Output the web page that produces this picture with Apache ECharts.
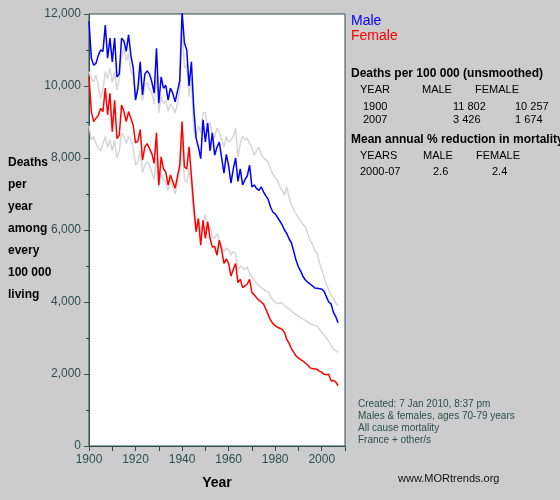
<!DOCTYPE html>
<html>
<head>
<meta charset="UTF-8">
<script src="https://cdn.jsdelivr.net/npm/echarts@6/dist/echarts.min.js"></script>
<style>
  *{margin:0;}
  html,body{height:100%;background:#cccccc;}
  #chart{width:560px;height:500px;}
</style>
</head>
<body>
<div id="chart"></div>
<script>
  // yearly values 1900-2007
  let startYear = 1900;
  let male = [
    11800,10770,10580,10630,10850,11000,10960,11690,10770,11330,
    10670,11330,10250,10330,11330,11250,10960,11420,10850,10500,
    9610,9940,10670,9750,10330,10420,10330,10110,9800,11050,
    9520,10250,9940,10020,9610,9940,9800,9560,9850,10150,
    12050,11200,11000,10000,10670,9400,8560,8300,7980,9060,
    8450,8970,8200,8700,8080,8300,8440,8000,7580,8100,
    7780,7300,7700,8000,7350,7700,7250,7400,7500,7800,
    7200,7250,7150,7100,7200,7060,6950,6850,6640,6500,
    6450,6350,6250,6140,6000,5900,5750,5640,5400,5150,
    4970,4850,4700,4610,4550,4500,4450,4390,4380,4370,
    4360,4300,4150,4000,3950,3720,3600,3426
  ];
  let female = [
    10257,9290,9010,9100,9190,9380,9290,9940,9200,9800,
    8730,9600,8540,8630,9470,9290,9010,9290,9100,8910,
    8420,8470,8790,7940,8310,8400,8260,8120,7850,8700,
    7250,8030,7700,7610,7250,7530,7350,7160,7480,7800,
    9010,7750,7700,8310,7500,6690,5950,6320,5580,6270,
    5770,6230,5770,5530,5540,5300,5720,5450,5070,5200,
    5070,4720,4900,5070,4540,4630,4400,4450,4500,4630,
    4260,4200,4120,4050,4000,3940,3800,3650,3500,3400,
    3340,3300,3270,3240,3150,2960,2850,2700,2600,2500,
    2450,2400,2360,2300,2250,2170,2150,2140,2130,2080,
    2050,1990,1980,1990,1810,1820,1780,1674
  ];
  let otherMale = [
    10400,10200,10120,10300,10000,9650,9900,10400,10200,10500,
    10100,10400,9900,10200,10800,11060,10700,10900,10400,10300,
    9700,9900,10300,9600,10000,10100,9900,9800,9500,10300,
    9260,9700,9500,9600,9300,9500,9400,9260,9500,9900,
    11690,10500,10600,9700,10200,8800,8560,8900,8700,9260,
    9260,8800,9000,8600,8580,8830,8700,8530,8300,8600,
    8440,8500,8600,8830,8030,8400,8600,8500,8550,8400,
    8300,8080,8200,8300,8100,8000,7950,7890,7700,7550,
    7450,7390,7200,7100,6970,7200,6900,6700,6550,6450,
    6350,6250,6150,6080,5900,5720,5600,5450,5360,5100,
    4900,4690,4500,4330,4200,4100,3970,3900
  ];
  let otherFemale = [
    8900,8500,8600,8400,8300,8200,8400,8600,8300,8500,
    8200,8500,8000,8200,8700,8600,8400,8600,8500,8300,
    7800,7900,8200,7600,7800,7900,7800,7600,7400,8000,
    7200,7600,7400,7300,7100,7400,7200,7000,7300,7600,
    8500,7400,7300,7700,7200,6430,6000,6300,5950,6200,
    6420,6000,6100,5800,5770,5900,5700,5540,5400,5500,
    5450,5300,5400,5350,4880,5000,4950,4900,4970,4800,
    4700,4600,4520,4450,4400,4350,4300,4290,4150,4050,
    4000,3950,3980,3970,3900,3850,3800,3750,3700,3650,
    3600,3560,3520,3480,3450,3400,3380,3350,3330,3250,
    3150,3080,3010,2900,2800,2690,2650,2600
  ];

  function pairs(arr){ return arr.map((v,i)=>[startYear+i, v]); }

  let txt = (x,y,t,extra)=>({type:'text',left:x,top:y,style:Object.assign({text:t,fill:'#000',font:'12px Arial'},extra||{})});

  let chart = echarts.init(document.getElementById('chart'));
  chart.setOption({
      backgroundColor:'#cccccc',
      animation:false,
      grid:{left:89,right:215,top:14,bottom:54,show:true,backgroundColor:'#fff',borderColor:'#2f4f4f',borderWidth:1},
      xAxis:{
          type:'value',min:1900,max:2010,interval:10,
          axisLine:{lineStyle:{color:'#2f4f4f'}},
          axisTick:{lineStyle:{color:'#2f4f4f'},length:5},
          axisLabel:{color:'#2f4f4f',fontFamily:'Arial',fontSize:12,
              formatter:v=>(v%20===0 && v<2010)?String(v):''},
          splitLine:{show:false},
          name:'Year',nameLocation:'middle',nameGap:30,
          nameTextStyle:{fontWeight:'bold',fontSize:14,fontFamily:'Arial',color:'#000'}
      },
      yAxis:{
          type:'value',min:0,max:12000,interval:2000,
          axisLine:{show:true,lineStyle:{color:'#2f4f4f'}},
          axisTick:{show:true,lineStyle:{color:'#2f4f4f'},length:5},
          minorTick:{show:true,splitNumber:2,length:3,lineStyle:{color:'#2f4f4f'}},
          axisLabel:{color:'#2f4f4f',fontFamily:'Arial',fontSize:12},
          splitLine:{show:false}
      },
      series:[
          {type:'line',data:pairs(otherMale),symbol:'none',lineStyle:{color:'#d6d6d6',width:1.5},z:1},
          {type:'line',data:pairs(otherFemale),symbol:'none',lineStyle:{color:'#d6d6d6',width:1.5},z:1},
          {type:'line',data:pairs(male),symbol:'none',lineStyle:{color:'#0000ff',width:1.5},z:3},
          {type:'line',data:pairs(female),symbol:'none',lineStyle:{color:'#ff0000',width:1.5},z:3}
      ],
      graphic:[
          txt(8,157,'Deaths\n\nper\n\nyear\n\namong\n\nevery\n\n100 000\n\nliving',{font:'bold 12px Arial',lineHeight:11}),
          txt(351,14,'Male',{fill:'#0000ff',font:'14px Arial'}),
          txt(351,29,'Female',{fill:'#ff0000',font:'14px Arial'}),
          txt(351,68,'Deaths per 100 000 (unsmoothed)',{font:'bold 12px Arial'}),
          txt(360,84,'YEAR',{font:'11px Arial'}),
          txt(422,84,'MALE',{font:'11px Arial'}),
          txt(475,84,'FEMALE',{font:'11px Arial'}),
          txt(363,100,'1900\n2007',{font:'11px Arial',lineHeight:13}),
          txt(453,100,'11 802\n3 426',{font:'11px Arial',lineHeight:13,align:'right'}),
          txt(515,100,'10 257\n1 674',{font:'11px Arial',lineHeight:13,align:'right'}),
          txt(351,134,'Mean annual % reduction in mortality',{font:'bold 12px Arial'}),
          txt(360,150,'YEARS',{font:'11px Arial'}),
          txt(423,150,'MALE',{font:'11px Arial'}),
          txt(476,150,'FEMALE',{font:'11px Arial'}),
          txt(360,166,'2000-07',{font:'11px Arial'}),
          txt(433,166,'2.6',{font:'11px Arial'}),
          txt(492,166,'2.4',{font:'11px Arial'}),
          txt(358,398,'Created: 7 Jan 2010, 8:37 pm\nMales & females, ages 70-79 years\nAll cause mortality\nFrance + other/s',{font:'10px Arial',fill:'#2f4f4f',lineHeight:12}),
          txt(398,473,'www.MORtrends.org',{font:'11px Arial',fill:'#111'})
      ]
  });
</script>
</body>
</html>
